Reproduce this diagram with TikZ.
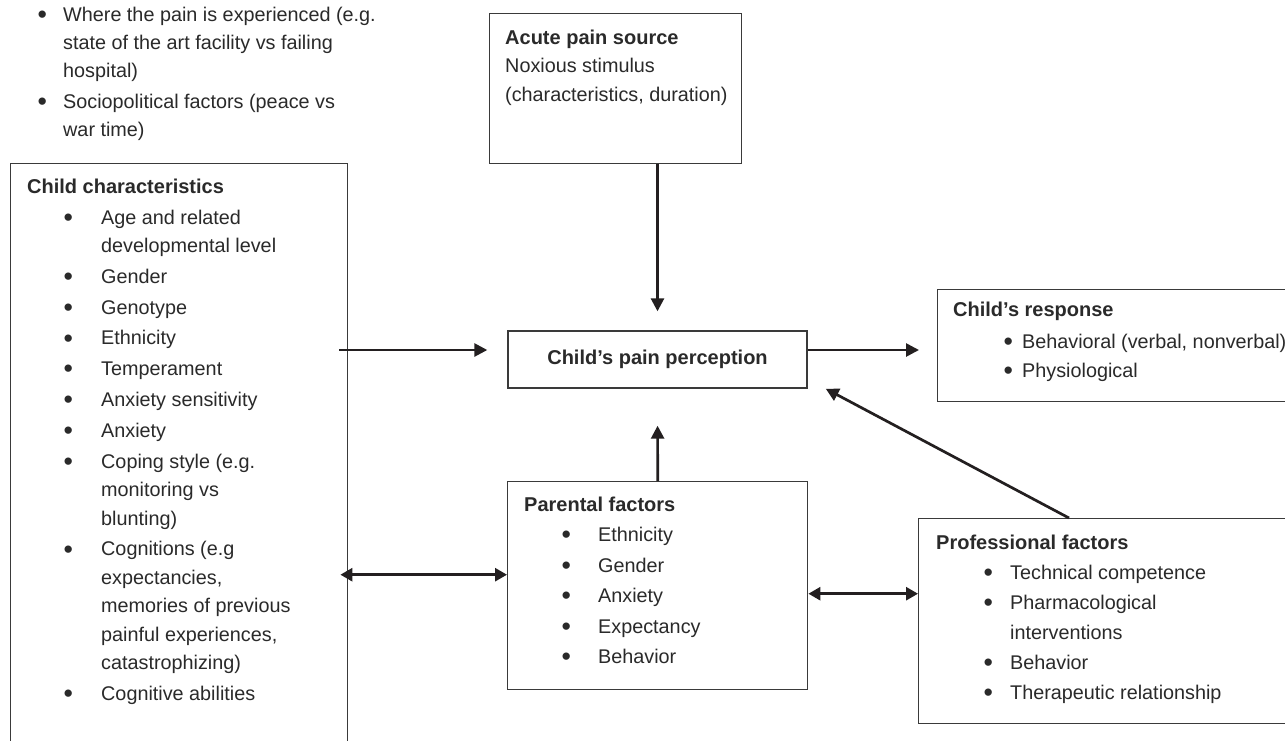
\documentclass[tikz,border=0pt]{standalone}
\usepackage{fontspec}
\usepackage{graphicx}
\setmainfont{Liberation Sans}
\usetikzlibrary{arrows.meta,calc}
\definecolor{boxcol}{HTML}{3A3A3A}
\definecolor{txtcol}{HTML}{2A2A2A}
\definecolor{arrcol}{HTML}{231F20}
\newcommand\fs[1]{\fontsize{19.8}{#1}\selectfont}
\newcommand\bigbul{\raisebox{-2.2pt}{\scalebox{1.35}{\textbullet}}}
\newcommand\bitem[3]{\hspace*{#1pt}\makebox[0pt]{\bigbul}\hspace*{\dimexpr#2pt-#1pt\relax}#3}
\newcommand\cont[2]{\hspace*{#1pt}#2}
\begin{document}
\begin{tikzpicture}[x=1pt,y=-1pt,
  box/.style={draw=boxcol, line width=1.4pt, inner sep=0pt, anchor=north west},
  txt/.style={inner sep=0pt, anchor=base west, text=txtcol},
  arr/.style={line width=2.7pt, draw=arrcol, -{Triangle[length=13pt,width=13pt]}},
  darr/.style={line width=2.7pt, draw=arrcol, {Triangle[length=12pt,width=13pt]}-{Triangle[length=12pt,width=13pt]}}]
\fill[white] (0,0) rectangle (1285,740);
\useasboundingbox (0,0) rectangle (1285,740);

% boxes
\node[box, minimum width=252pt, minimum height=150pt] (acute) at (489,13) {};
\node[box, minimum width=337pt, minimum height=620pt] (cc) at (10,163) {};
\node[box, minimum width=299pt, minimum height=57pt, anchor=center, text=txtcol,
      font=\fontsize{20}{24}\selectfont\bfseries] (pain) at (657.5,359.5) {Child’s pain perception};
\node[box, minimum width=400pt, minimum height=112pt] (resp) at (937,289) {};
\node[box, minimum width=300pt, minimum height=208pt] (par) at (507,481) {};
\node[box, minimum width=400pt, minimum height=205pt] (prof) at (918,518) {};

% texts
\node[txt, font=\fs{28}] (ctxt) at (0,21) {\begin{tabular}[t]{@{}l@{}}
\bitem{42}{63}{Where the pain is experienced (e.g.}\\
\cont{63}{state of the art facility vs failing}\\
\cont{63}{hospital)}\\[3pt]
\bitem{42}{63}{Sociopolitical factors (peace vs}\\
\cont{63}{war time)}
\end{tabular}};

\node[txt, font=\fs{28.5}] (acutetxt) at (505,44) {\begin{tabular}[t]{@{}l@{}}
{\fontsize{20}{28.5}\selectfont\bfseries Acute pain source}\\
Noxious stimulus\\
(characteristics, duration)
\end{tabular}};

\node[txt, font=\fs{28.5}] (cctxt) at (27,193) {\begin{tabular}[t]{@{}l@{}}
{\fontsize{20}{28.5}\selectfont\bfseries Child characteristics}\\[2.5pt]
\bitem{41}{74}{Age and related}\\
\cont{74}{developmental level}\\[2.3pt]
\bitem{41}{74}{Gender}\\[2.3pt]
\bitem{41}{74}{Genotype}\\[2.3pt]
\bitem{41}{74}{Ethnicity}\\[2.3pt]
\bitem{41}{74}{Temperament}\\[2.3pt]
\bitem{41}{74}{Anxiety sensitivity}\\[2.3pt]
\bitem{41}{74}{Anxiety}\\[2.3pt]
\bitem{41}{74}{Coping style (e.g.}\\
\cont{74}{monitoring vs}\\
\cont{74}{blunting)}\\[2.3pt]
\bitem{41}{74}{Cognitions (e.g}\\
\cont{74}{expectancies,}\\
\cont{74}{memories of previous}\\
\cont{74}{painful experiences,}\\
\cont{74}{catastrophizing)}\\[2.3pt]
\bitem{41}{74}{Cognitive abilities}
\end{tabular}};

\node[txt, font=\fs{28.5}] (resptxt) at (953,316) {\begin{tabular}[t]{@{}l@{}}
{\fontsize{20}{28.5}\selectfont\bfseries Child’s response}\\[4pt]
\bitem{55}{69}{Behavioral (verbal, nonverbal)}\\
\bitem{55}{69}{Physiological}
\end{tabular}};

\node[txt, font=\fs{30.5}] (partxt) at (524,511) {\begin{tabular}[t]{@{}l@{}}
{\fontsize{20}{30.5}\selectfont\bfseries Parental factors}\\
\bitem{42}{74}{Ethnicity}\\
\bitem{42}{74}{Gender}\\
\bitem{42}{74}{Anxiety}\\
\bitem{42}{74}{Expectancy}\\
\bitem{42}{74}{Behavior}
\end{tabular}};

\node[txt, font=\fs{30}] (proftxt) at (936,549) {\begin{tabular}[t]{@{}l@{}}
{\fontsize{20}{30}\selectfont\bfseries Professional factors}\\
\bitem{52}{74}{Technical competence}\\
\bitem{52}{74}{Pharmacological}\\
\cont{74}{interventions}\\
\bitem{52}{74}{Behavior}\\
\bitem{52}{74}{Therapeutic relationship}
\end{tabular}};

% connectors
\coordinate (a1) at ($(pain.west)+(0,-9.5)$);
\coordinate (a2) at ($(pain.east)+(0,-9.5)$);
\coordinate (b1) at ($(par.west)+(0,-11)$);
\coordinate (b2) at ($(par.east)+(0,8)$);
\coordinate (ptip) at ($(pain.south east)+(18,0)$);
\coordinate (pstart) at ($(prof.north west)+(151,0)$);

\draw[arr, shorten >=19pt] (acute.south -| pain.north) -- (pain.north);
\draw[arr, shorten >=37pt] (par.north) -- (pain.south);
\draw[arr, shorten >=20pt] ($(a1 -| cc.east)+(-9,0)$) -- (a1);
\draw[arr, shorten >=18pt] (a2) -- (a2 -| resp.west);
\draw[arr] (pstart) -- (ptip);
\draw[darr] ($(b1 -| cc.east)+(-8,0)$) -- (b1);
\draw[darr] (b2) -- (b2 -| prof.west);
\end{tikzpicture}
\end{document}
